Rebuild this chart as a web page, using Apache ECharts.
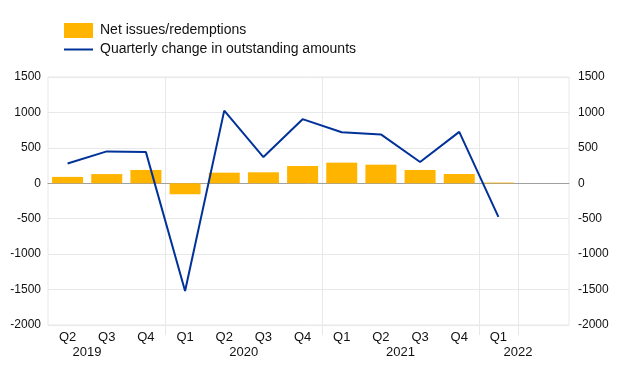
<!DOCTYPE html>
<html>
<head>
<meta charset="utf-8">
<script src="https://cdn.jsdelivr.net/npm/echarts@6/dist/echarts.min.js"></script>
<style>html,body{margin:0;padding:0;background:#fff}#c{width:620px;height:387px}</style>
</head>
<body>
<div id="c"></div>
<script>
var quarters = ['Q2','Q3','Q4','Q1','Q2','Q3','Q4','Q1','Q2','Q3','Q4','Q1'];
var years = ['2019','','','','2020','','','','2021','','','2022'];
var netIssues = [90, 130, 188, -155, 150, 155, 244, 291, 263, 188, 131, 10];
var quarterlyChange = [280, 450, 440, -1520, 1025, 370, 905, 720, 690, 300, 725, -475];
var yTicks = [-2000, 1500, 500];

var FONT = '"Liberation Sans", Arial, sans-serif';
var GRID_C = '#e8e8e8';
var boundary = function (i) { return i === 3 || i === 7 || i === 11; };
var plain = function (v) { return String(v); };

var chart = echarts.init(document.getElementById('c'), null, {renderer: 'canvas'});
chart.setOption({
  animation: false,
  textStyle: {fontFamily: FONT},
  legend: {
    orient: 'vertical', left: 59, top: 18, itemWidth: 29, itemHeight: 15, itemGap: 4.5,
    textStyle: {fontFamily: FONT, fontSize: 14, color: '#111', padding: [0, 0, 0, 2]},
    data: [
      {name: 'Net issues/redemptions', icon: 'rect'},
      {name: 'Quarterly change in outstanding amounts', icon: 'path://M0,0 H29 V2 H0 Z'}
    ]
  },
  grid: [
    {left: 48, top: 77, width: 470, height: 248, show: false},
    {left: 48, top: 77, width: 521, height: 248, show: true, borderColor: GRID_C, borderWidth: 1}
  ],
  xAxis: [
    {type: 'category', gridIndex: 0, data: quarters, boundaryGap: true,
     axisLine: {show: false, onZero: false},
     axisTick: {show: true, interval: boundary, length: 10, lineStyle: {color: GRID_C}},
     splitLine: {show: true, interval: boundary, lineStyle: {color: GRID_C}},
     axisLabel: {interval: 0, margin: 6, fontSize: 13, color: '#111', fontFamily: FONT}},
    {type: 'category', gridIndex: 0, data: years, position: 'bottom', offset: 15,
     axisLine: {show: false, onZero: false}, axisTick: {show: false}, splitLine: {show: false},
     axisLabel: {interval: 0, margin: 6, fontSize: 13, color: '#111', fontFamily: FONT,
       formatter: function (v) { return v ? '{y|' + v + '}' : ''; },
       rich: {y: {padding: [0, 0, 0, 39], fontSize: 13, color: '#111', fontFamily: FONT}}}},
    {type: 'value', gridIndex: 1, min: 0, max: 1, show: true,
     axisLine: {show: true, onZero: true, lineStyle: {color: '#a0a0a0', width: 1}},
     axisTick: {show: false}, axisLabel: {show: false}, splitLine: {show: false}}
  ],
  yAxis: [
    {type: 'value', gridIndex: 1, min: yTicks[0], max: yTicks[1], interval: yTicks[2], position: 'left',
     axisLine: {show: false}, axisTick: {show: false},
     splitLine: {show: true, lineStyle: {color: GRID_C}},
     axisLabel: {margin: 7, fontSize: 12, color: '#111', fontFamily: FONT, formatter: plain}},
    {type: 'value', gridIndex: 1, min: yTicks[0], max: yTicks[1], interval: yTicks[2], position: 'right',
     axisLine: {show: false}, axisTick: {show: false}, splitLine: {show: false},
     axisLabel: {margin: 9, fontSize: 12, color: '#111', fontFamily: FONT, formatter: plain}},
    {type: 'value', gridIndex: 0, min: yTicks[0], max: yTicks[1], interval: yTicks[2], show: false,
     splitLine: {show: false}}
  ],
  series: [
    {name: 'Net issues/redemptions', type: 'bar', xAxisIndex: 0, yAxisIndex: 2,
     data: netIssues, barWidth: 31, itemStyle: {color: '#FFB400'}, z: 2},
    {name: 'Quarterly change in outstanding amounts', type: 'line', xAxisIndex: 0, yAxisIndex: 2,
     data: quarterlyChange, symbol: 'none', lineStyle: {color: '#003299', width: 2},
     itemStyle: {color: '#003299'}, z: 3}
  ]
});
</script>
</body>
</html>
